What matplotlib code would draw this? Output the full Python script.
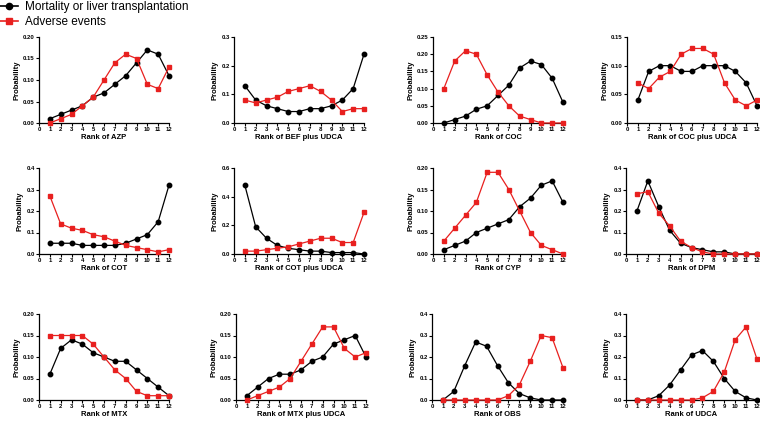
import numpy as np
import matplotlib
matplotlib.use("Agg")
import matplotlib.pyplot as plt
from matplotlib.lines import Line2D

plt.rcParams['font.family'] = ['Liberation Sans', 'DejaVu Sans']

ranks = np.arange(1, 13)

treatments = ["AZP", "BEF plus UDCA", "COC", "COC plus UDCA",
              "COT", "COT plus UDCA", "CYP", "DPM",
              "MTX", "MTX plus UDCA", "OBS", "UDCA"]

# mortality or liver transplantation (black)
mortality = {
    "AZP": [0.01, 0.02, 0.03, 0.04, 0.06, 0.07, 0.09, 0.11, 0.14, 0.17, 0.16, 0.11],
    "BEF plus UDCA": [0.13, 0.08, 0.06, 0.05, 0.04, 0.04, 0.05, 0.05, 0.06, 0.08, 0.12, 0.24],
    "COC": [0.00, 0.01, 0.02, 0.04, 0.05, 0.08, 0.11, 0.16, 0.18, 0.17, 0.13, 0.06],
    "COC plus UDCA": [0.04, 0.09, 0.10, 0.10, 0.09, 0.09, 0.10, 0.10, 0.10, 0.09, 0.07, 0.03],
    "COT": [0.05, 0.05, 0.05, 0.04, 0.04, 0.04, 0.04, 0.05, 0.07, 0.09, 0.15, 0.32],
    "COT plus UDCA": [0.48, 0.19, 0.11, 0.06, 0.04, 0.03, 0.02, 0.02, 0.01, 0.01, 0.01, 0.00],
    "CYP": [0.01, 0.02, 0.03, 0.05, 0.06, 0.07, 0.08, 0.11, 0.13, 0.16, 0.17, 0.12],
    "DPM": [0.20, 0.34, 0.22, 0.11, 0.05, 0.03, 0.02, 0.01, 0.01, 0.00, 0.00, 0.00],
    "MTX": [0.06, 0.12, 0.14, 0.13, 0.11, 0.10, 0.09, 0.09, 0.07, 0.05, 0.03, 0.01],
    "MTX plus UDCA": [0.01, 0.03, 0.05, 0.06, 0.06, 0.07, 0.09, 0.10, 0.13, 0.14, 0.15, 0.10],
    "OBS": [0.00, 0.04, 0.16, 0.27, 0.25, 0.16, 0.08, 0.03, 0.01, 0.00, 0.00, 0.00],
    "UDCA": [0.00, 0.00, 0.02, 0.07, 0.14, 0.21, 0.23, 0.18, 0.10, 0.04, 0.01, 0.00],
}

# adverse events (red)
adverse = {
    "AZP": [0.00, 0.01, 0.02, 0.04, 0.06, 0.10, 0.14, 0.16, 0.15, 0.09, 0.08, 0.13],
    "BEF plus UDCA": [0.08, 0.07, 0.08, 0.09, 0.11, 0.12, 0.13, 0.11, 0.08, 0.04, 0.05, 0.05],
    "COC": [0.10, 0.18, 0.21, 0.20, 0.14, 0.09, 0.05, 0.02, 0.01, 0.00, 0.00, 0.00],
    "COC plus UDCA": [0.07, 0.06, 0.08, 0.09, 0.12, 0.13, 0.13, 0.12, 0.07, 0.04, 0.03, 0.04],
    "COT": [0.27, 0.14, 0.12, 0.11, 0.09, 0.08, 0.06, 0.04, 0.03, 0.02, 0.01, 0.02],
    "COT plus UDCA": [0.02, 0.02, 0.03, 0.04, 0.05, 0.07, 0.09, 0.11, 0.11, 0.08, 0.08, 0.29],
    "CYP": [0.03, 0.06, 0.09, 0.12, 0.19, 0.19, 0.15, 0.10, 0.05, 0.02, 0.01, 0.00],
    "DPM": [0.28, 0.29, 0.19, 0.13, 0.06, 0.03, 0.01, 0.00, 0.00, 0.00, 0.00, 0.00],
    "MTX": [0.15, 0.15, 0.15, 0.15, 0.13, 0.10, 0.07, 0.05, 0.02, 0.01, 0.01, 0.01],
    "MTX plus UDCA": [0.00, 0.01, 0.02, 0.03, 0.05, 0.09, 0.13, 0.17, 0.17, 0.12, 0.10, 0.11],
    "OBS": [0.00, 0.00, 0.00, 0.00, 0.00, 0.00, 0.02, 0.07, 0.18, 0.30, 0.29, 0.15],
    "UDCA": [0.00, 0.00, 0.00, 0.00, 0.00, 0.00, 0.01, 0.04, 0.13, 0.28, 0.34, 0.19],
}

# y axis (max, step, decimals) per panel
yaxis = {
    "AZP": (0.20, 0.05, 2), "BEF plus UDCA": (0.3, 0.1, 1),
    "COC": (0.25, 0.05, 2), "COC plus UDCA": (0.15, 0.05, 2),
    "COT": (0.4, 0.1, 1), "COT plus UDCA": (0.6, 0.2, 1),
    "CYP": (0.20, 0.05, 2), "DPM": (0.4, 0.1, 1),
    "MTX": (0.20, 0.05, 2), "MTX plus UDCA": (0.20, 0.05, 2),
    "OBS": (0.4, 0.1, 1), "UDCA": (0.4, 0.1, 1),
}

RED = "#e8201f"
W, H = 760, 421
fig = plt.figure(figsize=(W / 100, H / 100), dpi=100)

# panel boxes in pixels: (left, right, top, bottom)
rows = [(37, 123), (168, 254), (314, 400)]
cols = [[(39, 169), (234, 364), (433, 563), (627, 757)],
        [(39, 169), (234, 364), (433, 563), (626, 757)],
        [(39, 169), (236, 366), (432, 563), (626, 757)]]

for i, name in enumerate(treatments):
    r, c = divmod(i, 4)
    top, bot = rows[r]
    left, right = cols[r][c]
    ax = fig.add_axes([left / W, 1 - bot / H, (right - left) / W, (bot - top) / H])
    ax.plot(ranks, mortality[name], color="black", lw=0.9, marker="o", ms=3.2,
            clip_on=False, zorder=3)
    ax.plot(ranks, adverse[name], color=RED, lw=0.9, marker="s", ms=3.4,
            clip_on=False, zorder=3)
    ymax, step, dec = yaxis[name]
    ax.set_xlim(0, 12)
    ax.set_ylim(0, ymax)
    ax.set_xticks(np.arange(0, 13))
    yt = np.arange(0, ymax + step / 2, step)
    ax.set_yticks(yt)
    ax.set_yticklabels([f"{v:.{dec}f}" for v in yt])
    for s in ["top", "right"]:
        ax.spines[s].set_visible(False)
    for s in ["left", "bottom"]:
        ax.spines[s].set_linewidth(0.9)
    ax.tick_params(length=2, width=0.8, labelsize=4.3, pad=1)
    for lab in ax.get_xticklabels() + ax.get_yticklabels():
        lab.set_fontweight("bold")
    ax.set_xlabel("Rank of " + name, fontsize=5.5, fontweight="bold", labelpad=1.5)
    ax.set_ylabel("Probability", fontsize=5.5, fontweight="bold", labelpad=2)

handles = [Line2D([], [], color="black", lw=1.2, marker="o", ms=4.5),
           Line2D([], [], color=RED, lw=1.2, marker="s", ms=5)]
fig.legend(handles, ["Mortality or liver transplantation", "Adverse events"],
           loc="upper left", bbox_to_anchor=(0.0, 0.998), frameon=False,
           fontsize=8.5, handlelength=1.5, handletextpad=0.6, labelspacing=0.25,
           borderpad=0, borderaxespad=0)

fig.savefig("out.png", dpi=100)
